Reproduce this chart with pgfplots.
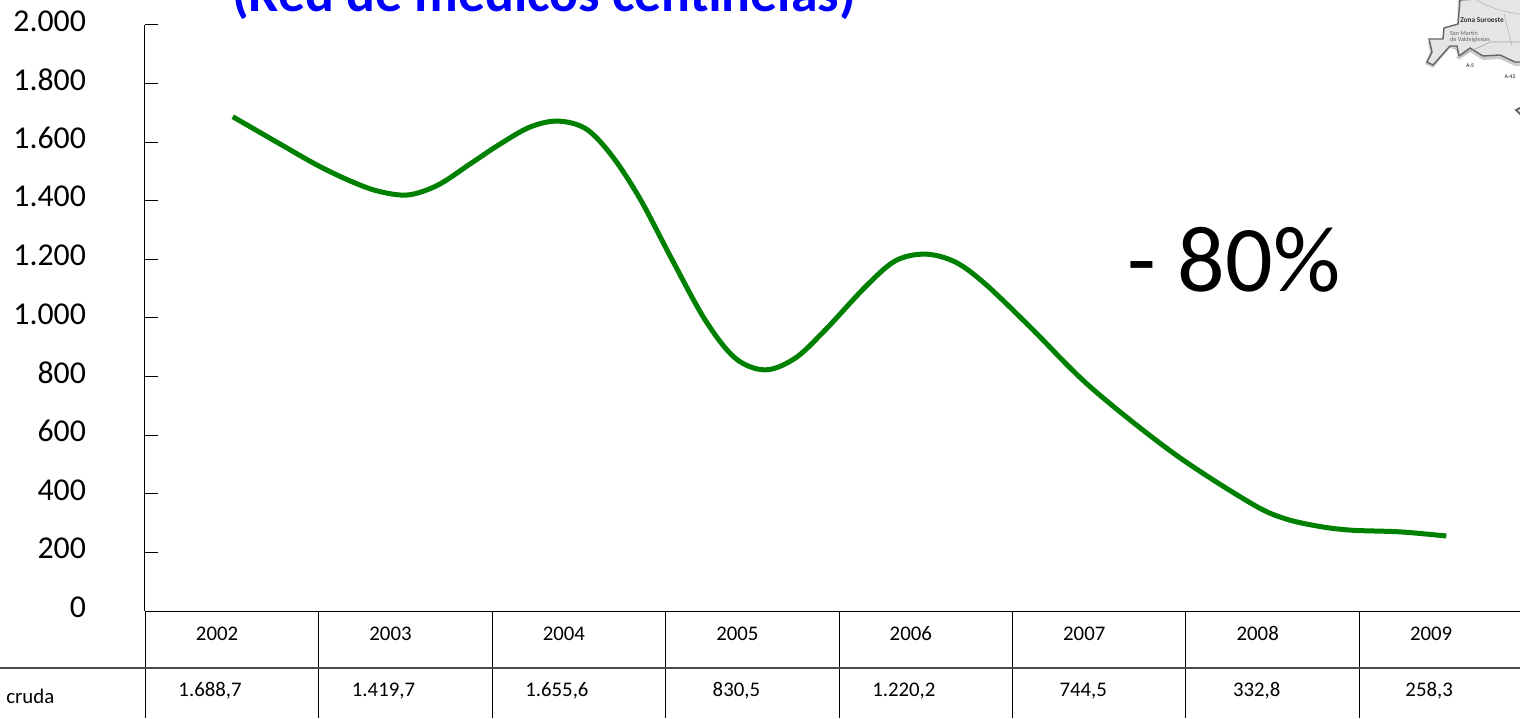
\documentclass[border=0pt]{standalone}
\usepackage{pgfplots}
\pgfplotsset{compat=1.18}
\usepackage{fontspec}
\setmainfont{Carlito}
\definecolor{curve}{RGB}{0,128,0}
\definecolor{titleblue}{RGB}{0,0,255}
\pgfplotstableread{
x y
2002.004 1687
2002.288 1590
2002.490 1522
2002.680 1468
2002.842 1433
2003.015 1420
2003.188 1454
2003.373 1526
2003.546 1594
2003.719 1652
2003.880 1672
2004.042 1645
2004.191 1553
2004.353 1406
2004.538 1198
2004.728 993
2004.901 863
2005.074 823
2005.247 863
2005.420 959
2005.651 1106
2005.824 1195
2005.997 1218
2006.170 1191
2006.343 1116
2006.602 969
2006.948 765
2007.427 539
2007.871 369
2008.061 317
2008.257 290
2008.448 276
2008.736 270
2009.001 256
}\curvedata
\begin{document}
\begin{tikzpicture}[x=1pt,y=1pt]
\useasboundingbox (0,0) rectangle (760,359);
\clip (0,0) rectangle (760,359);
\begin{axis}[
  at={(72.5pt,53.5pt)}, anchor=origin,
  scale only axis, width=687.5pt, height=293pt,
  xmin=2001.498, xmax=2009.426, ymin=0, ymax=2000,
  axis x line*=bottom, axis y line*=left,
  axis line style={-, black, line width=0.5pt},
  clip=false,
  xtick={2002,2003,2004,2005,2006,2007,2008,2009},
  xticklabels={2002,2003,2004,2005,2006,2007,2008,2009},
  x tick label style={font=\fontsize{10.4}{12}\selectfont, anchor=center, text height=6.6pt, text depth=0pt, yshift=-11.5pt, xshift=-7.5pt},
  xtick style={draw=none}, major tick length=6.5pt,
  ytick={0,200,...,2000},
  ytick style={black, line width=0.5pt},
  y tick label style={font=\fontsize{15.9}{18}\selectfont, anchor=east, xshift=-26pt, yshift=2pt},
  /pgf/number format/.cd, 1000 sep={.}, assume math mode=true,
]
\addplot[curve, line width=2.5pt, smooth, tension=0.55] table[x=x,y=y] {\curvedata};
\foreach \xv in {2001.5,2002.5,2003.5,2004.5,2005.5,2006.5,2007.5,2008.5}{
  \edef\tmp{\noexpand\draw[black,line width=0.5pt] (axis cs:\xv,0) -- (axis cs:\xv,-365);}\tmp
}
\foreach \xv/\lab/\sh in {2002/{1.688,7}/-11,2003/{1.419,7}/-11,2004/{1.655,6}/-11,2005/{830,5}/-8,2006/{1.220,2}/-11,2007/{744,5}/-8,2008/{332,8}/-8,2009/{258,3}/-8.5}{
  \edef\tmp{\noexpand\node[xshift=\sh pt,font=\noexpand\fontsize{10.4}{12}\noexpand\selectfont,text height=7pt,text depth=1.5pt] at (axis cs:\xv,-273) {\lab};}\tmp
}
\end{axis}
\draw[black!70,line width=0.6pt] (0,25) -- (760,25);
\node[anchor=base west,inner sep=0pt,font=\fontsize{10.4}{12}\selectfont] at (3,7.5) {cruda};
\node[anchor=base,font=\bfseries\fontsize{26.9}{30}\selectfont,text=titleblue] at (272,353) {(Red de médicos centinelas)};
\node[font=\fontsize{47}{50}\selectfont] at (617,229) {- 80\%};
% map fragment
\fill[black!20] (729,359) -- (728.5,346) -- (721.5,344) -- (721,338) -- (714,338) -- (715,333) -- (712.5,327) -- (716.5,325) -- (725,335) -- (728,334) -- (729.5,329) -- (735,333) -- (741.5,329) -- (750,329.5) -- (757.5,326) -- (760,326) -- (760,359) -- cycle;
\filldraw[draw=black!60,line width=0.7pt,fill=black!10] (730,359) -- (729,347) -- (722,345) -- (721.5,339.5) -- (714.5,339.5) -- (716,333) -- (713.5,328) -- (716.5,326.5) -- (725,336) -- (728.5,336) -- (729.5,331) -- (735,335) -- (741.5,331) -- (750,331.5) -- (757.5,328) -- (762,328) -- (762,361) -- cycle;
\draw[black!35,line width=0.3pt] (728,330) -- (745,338) -- (760,338);
\draw[blue!30!black!30,line width=0.3pt] (738,359) to[bend right=10] (760,352);
\draw[blue!30!black!30,line width=0.3pt] (752,352) -- (756,336);
\node[font=\bfseries\fontsize{3.7}{4}\selectfont,text=black!80] at (741,349) {Zona Suroeste};
\node[font=\fontsize{3.1}{3.4}\selectfont,text=black!60,align=left] at (735,340.5) {San Martín\\de Valdeiglesias};
\node[font=\bfseries\fontsize{2.8}{3}\selectfont,text=black!70] at (735,326) {A-5};
\node[font=\bfseries\fontsize{2.8}{3}\selectfont,text=black!70] at (755,320.5) {A-42};
\filldraw[draw=black!65,line width=0.8pt,fill=black!10] (762,306) -- (758,304) -- (762,300);
\end{tikzpicture}
\end{document}
